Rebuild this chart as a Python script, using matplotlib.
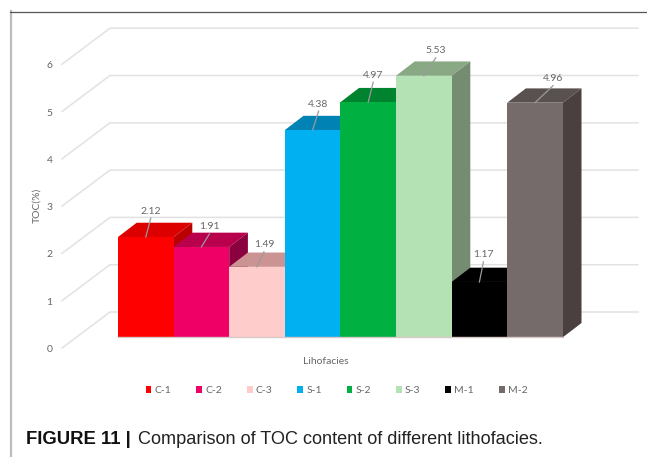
import matplotlib
matplotlib.use("Agg")
import matplotlib.pyplot as plt
from matplotlib.patches import Polygon, Patch
from matplotlib.lines import Line2D

W, H = 647, 457

categories = ["C-1", "C-2", "C-3", "S-1", "S-2", "S-3", "M-1", "M-2"]
toc_values = [2.12, 1.91, 1.49, 4.38, 4.97, 5.53, 1.17, 4.96]
front_colors = ["#FF0000", "#EE0066", "#FFCCCC", "#00B0F0", "#00B040", "#B5E2B5", "#000000", "#766B6B"]
top_colors = ["#DD0000", "#B8004C", "#CC9393", "#0083B4", "#00832F", "#89A985", "#000000", "#595050"]
side_colors = ["#BB0000", "#8B003E", "#A87C7C", "#006A92", "#006A26", "#748C70", "#000000", "#4A4040"]
y_ticks = [0, 1, 2, 3, 4, 5, 6]
label_offsets = [(5, 26), (8, 20), (7, 22), (6, 26), (5, 27), (12, 25), (4, 27), (18, 24)]

# Pixel scale of one bar width and one TOC unit, plus the baseline origin
UX, UY = 55.6, 47.3
X0, Y0 = 118.0, 337.3
BAR_DX, BAR_DY = 18.7 / UX, 14.3 / UY
WALL_LEFT, WALL_RIGHT = (62 - X0) / UX, (638 - X0) / UX
WALL_BACK = (110 - X0) / UX
FLOOR_FRONT, FLOOR_BACK = (Y0 - 348.0) / UY, (Y0 - 312.0) / UY

TEXT = "#666666"
FONT = "Lato"

fig = plt.figure(figsize=(W / 100, H / 100), dpi=100, facecolor="white")
ax = fig.add_axes([0, 0, 1, 1])
ax.set_xlim(-X0 / UX, (W - X0) / UX)
ax.set_ylim((Y0 - H) / UY, Y0 / UY)
ax.axis("off")

# Floor-to-wall gridlines of the 3D frame
for tick in y_ticks:
    ax.plot([WALL_LEFT, WALL_BACK, WALL_RIGHT],
            [tick + FLOOR_FRONT, tick + FLOOR_BACK, tick + FLOOR_BACK],
            color="#E2E2E2", lw=1.1, zorder=1, solid_joinstyle="miter")
    ax.text(WALL_LEFT - 12.5 / UX, tick + FLOOR_FRONT - 1.5 / UY, str(tick), color=TEXT, fontsize=7.5,
            family=FONT, ha="center", va="center")

# Bars are painted left to right so each front face hides its neighbour's side
for i, value in enumerate(toc_values):
    z = 2 + i
    top = [(i, value), (i + 1, value), (i + 1 + BAR_DX, value + BAR_DY), (i + BAR_DX, value + BAR_DY)]
    side = [(i + 1, 0), (i + 1 + BAR_DX, BAR_DY), (i + 1 + BAR_DX, value + BAR_DY), (i + 1, value)]
    front = [(i, 0), (i + 1, 0), (i + 1, value), (i, value)]
    ax.add_patch(Polygon(top, closed=True, fc=top_colors[i], ec="none", zorder=z))
    ax.add_patch(Polygon(side, closed=True, fc=side_colors[i], ec="none", zorder=z))
    ax.add_patch(Polygon(front, closed=True, fc=front_colors[i], ec="none", zorder=z))

# Shadow-like edge along the base of the bars
ax.plot([0, len(toc_values)], [0, 0], color="#D9C8C8", lw=1.0, zorder=20)

# Value labels with leader lines from the top of each bar
for i, value in enumerate(toc_values):
    dx, dy = label_offsets[i]
    ax.plot([i + 0.5, i + 0.5 + dx / UX], [value, value + (dy - 7) / UY],
            color="#9A9A9A", lw=0.9, zorder=30)
    ax.text(i + 0.5 + dx / UX, value + dy / UY, f"{value:.2f}", color=TEXT, fontsize=7.5,
            family=FONT, ha="center", va="center", zorder=31)

ax.text((37 - X0) / UX, (Y0 - 205) / UY, "TOC(%)", color=TEXT, fontsize=7.5, family=FONT,
        rotation=90, ha="center", va="center")
ax.text((326 - X0) / UX, (Y0 - 361) / UY, "Lihofacies", color=TEXT, fontsize=7.5, family=FONT,
        ha="center", va="center")

handles = [Patch(fc=c, ec="none") for c in front_colors]
ax.legend(handles, categories, ncol=len(categories), loc="center",
          bbox_to_anchor=(336.5 / W, 1 - 390.7 / H), frameon=False,
          prop={"family": FONT, "size": 7.5}, labelcolor=TEXT,
          handlelength=0.55, handleheight=0.55, handletextpad=0.3, columnspacing=2.4)

# Outer frame of the figure panel
fig.add_artist(Line2D([10.5 / W, 10.5 / W], [0, 1 - 11 / H], color="#BDBDBD", lw=1.6))
fig.add_artist(Line2D([10 / W, 1], [1 - 11.5 / H, 1 - 11.5 / H], color="#555555", lw=0.9))

# Caption
bold = fig.text(26 / W, 1 - 439.5 / H, "FIGURE 11 |", family="Liberation Sans", weight="bold",
                fontsize=13.3, color="#111111", ha="left", va="center")
fig.canvas.draw()
end = bold.get_window_extent().x1
fig.text((end + 7) / W, 1 - 439.5 / H, "Comparison of TOC content of different lithofacies.",
         family="Liberation Sans", fontsize=13.03, color="#222222", ha="left", va="center")

fig.savefig("out.png", dpi=100)
